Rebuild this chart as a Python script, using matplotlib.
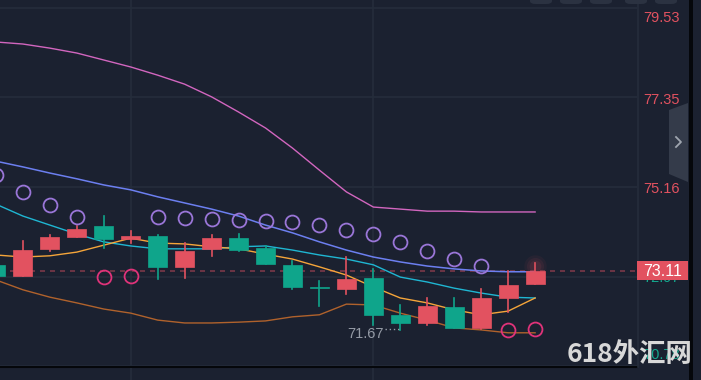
import matplotlib
matplotlib.use("Agg")
import matplotlib.pyplot as plt
from matplotlib.patches import Rectangle, Polygon, FancyBboxPatch
from matplotlib.transforms import blended_transform_factory

# candle data (red = up, green = down)
opens = [73.26, 72.99, 73.65, 73.94, 74.21, 73.89, 73.96, 73.21, 73.65, 73.92, 73.67,
         73.26, 72.70, 72.67, 72.94, 72.04, 71.84, 72.23, 71.72, 72.45, 72.79]
highs = [73.33, 73.84, 73.99, 74.21, 74.45, 74.09, 73.99, 73.79, 73.99, 74.01, 73.72,
         73.35, 72.87, 73.45, 73.16, 72.28, 72.45, 72.45, 72.67, 73.11, 73.30]
lows = [72.91, 72.99, 73.60, 73.94, 73.67, 73.79, 72.91, 72.94, 73.48, 73.60, 73.28,
        72.67, 72.26, 72.55, 71.79, 71.67, 71.79, 71.72, 71.70, 72.11, 72.79]
closes = [72.99, 73.62, 73.94, 74.13, 73.89, 73.96, 73.21, 73.60, 73.92, 73.62, 73.28,
          72.72, 72.69, 72.91, 72.04, 71.84, 72.26, 71.72, 72.45, 72.77, 73.11]

# indicator lines
upper_band = [78.70, 78.65, 78.55, 78.43, 78.26, 78.09, 77.89, 77.67, 77.36, 76.99, 76.60,
              76.11, 75.57, 75.04, 74.67, 74.62, 74.57, 74.57, 74.55, 74.55, 74.55]
lower_band = [72.89, 72.65, 72.47, 72.33, 72.18, 72.08, 71.91, 71.84, 71.84, 71.86, 71.89,
              71.99, 72.04, 72.30, 72.28, 72.08, 71.91, 71.72, 71.67, 71.60, 71.60]
ma_slow = [75.79, 75.65, 75.50, 75.36, 75.21, 75.09, 74.92, 74.77, 74.62, 74.45, 74.23,
           74.04, 73.82, 73.62, 73.45, 73.33, 73.23, 73.16, 73.11, 73.09, 73.09]
ma_mid = [74.74, 74.45, 74.23, 74.01, 73.82, 73.72, 73.65, 73.65, 73.65, 73.70, 73.72,
          73.62, 73.50, 73.40, 73.26, 72.96, 72.84, 72.69, 72.57, 72.47, 72.45]
ma_fast = [73.50, 73.45, 73.48, 73.57, 73.74, 73.91, 73.79, 73.77, 73.70, 73.65, 73.52,
           73.40, 73.21, 73.01, 72.72, 72.45, 72.33, 72.16, 72.04, 72.13, 72.45]
sar = [75.45, 75.04, 74.72, 74.43, 72.96, 72.99, 74.43, 74.40, 74.38, 74.35, 74.33,
       74.31, 74.23, 74.11, 74.01, 73.82, 73.60, 73.40, 73.23, 71.67, 71.69]

price_ticks = [79.53, 77.35, 75.16, 72.97, 70.78]
tick_label_y = [79.29, 77.29, 75.11, 72.93, 71.05]
last_price = 73.11
low_price = 71.67
low_idx = 15
vgrid_idx = [5, 14]

BG = "#1b2130"
GRID = "#252d3b"
RED = "#e25260"
GREEN = "#0fa58b"

W, H = 701, 380
fig = plt.figure(figsize=(W / 100, H / 100), dpi=100, facecolor=BG)

ax = fig.add_axes([0, 13 / H, 637 / W, 367 / H])
ax.set_facecolor(BG)
ax.set_xlim(0.15, 23.78)
ax.set_ylim(70.765, 79.725)
ax.set_yticks(price_ticks)
ax.set_xticks(vgrid_idx)
ax.grid(True, color=GRID, linewidth=1.2)
ax.tick_params(left=False, bottom=False, labelleft=False, labelbottom=False)
for side in ["top", "left", "right"]:
    ax.spines[side].set_visible(False)
ax.spines["bottom"].set_color("#05070b")
ax.spines["bottom"].set_linewidth(1.5)

idx = list(range(len(opens)))

# lines
ax.plot(idx, upper_band, color="#d266bf", lw=1.0, zorder=2)
ax.plot(idx, lower_band, color="#b0622c", lw=1.0, zorder=2)
ax.plot(idx, ma_slow, color="#6c7ff0", lw=1.1, zorder=2)
ax.plot(idx, ma_mid, color="#1fb6d2", lw=1.0, zorder=2)
ax.plot(idx, ma_fast, color="#f5a53a", lw=1.0, zorder=2)

# candles
for i in idx:
    o, h, l, c = opens[i], highs[i], lows[i], closes[i]
    col = RED if c >= o else GREEN
    ax.plot([i, i], [l, h], color=col, lw=1.2, zorder=3)
    bot, top = min(o, c), max(o, c)
    ax.add_patch(Rectangle((i - 0.35, bot), 0.7, max(top - bot, 0.02),
                           facecolor=col, edgecolor=col, lw=0.5, zorder=4))

# SAR circles
for i in idx:
    col = "#9a76d8" if sar[i] > highs[i] else "#e0337a"
    ax.plot(i, sar[i], "o", ms=10, mfc="none", mec=col, mew=1.3, zorder=5)

# glow on last candle
for s, a in [(260, 0.06), (150, 0.08), (70, 0.1)]:
    ax.scatter(idx[-1], highs[-1] - 0.08, s=s, color=RED, alpha=a, lw=0, zorder=5)

# last price line
ax.axhline(last_price, color="#7a3849", lw=1.2, ls=(0, (3, 3)), zorder=1)

# low marker
ax.text(low_idx - 0.62, low_price - 0.1, "71.67", color="#959ba6", fontsize=10.5,
        family="Liberation Sans", ha="right", va="center", zorder=6)
ax.plot([low_idx - 0.56, low_idx - 0.05], [low_price + 0.02] * 2, color="#959ba6",
        lw=1.0, ls=(0, (1, 2)), zorder=6)

# bottom strip
bx = fig.add_axes([0, 0, 637 / W, 12 / H])
bx.set_facecolor(BG)
bx.set_xlim(ax.get_xlim())
for v in vgrid_idx:
    bx.axvline(v, color=GRID, lw=1.2)
bx.axis("off")

# price scale
fig.add_artist(plt.Line2D([637.5 / W, 637.5 / W], [13 / H, 1], color=GRID, lw=1.2))
fig.add_artist(Rectangle((689 / W, 0), 4 / W, 1, transform=fig.transFigure,
                         facecolor="#05070b", lw=0))
tr = blended_transform_factory(fig.transFigure, ax.transData)
for v, ly in zip(price_ticks, tick_label_y):
    col = RED if v > last_price else "#14a88e"
    ax.text(643 / W, ly, f"{v:.2f}", transform=tr, color=col, fontsize=10.5,
            family="Liberation Sans", va="center", ha="left", zorder=1, clip_on=False)

# last price box
fig.add_artist(Rectangle((637 / W, (H - 280) / H), 51 / W, 19 / H,
                         transform=fig.transFigure, facecolor=RED, lw=0, zorder=10))
fig.text(662.5 / W, (H - 271) / H, f"{last_price:.2f}", color="white", fontsize=11.5,
         family="Liberation Sans", ha="center", va="center", zorder=11)

# side tab with chevron
tab = Polygon([(669 / W, (H - 110) / H), (688 / W, (H - 103) / H),
               (688 / W, (H - 182) / H), (669 / W, (H - 174) / H)],
              closed=True, transform=fig.transFigure, facecolor="#343b4a", lw=0, zorder=10)
fig.add_artist(tab)
fig.add_artist(plt.Line2D([676 / W, 681 / W, 676 / W],
                          [(H - 137) / H, (H - 142) / H, (H - 147) / H],
                          color="#a0a6b0", lw=1.3, zorder=11))

# top buttons
for x0 in [530, 560, 590, 625, 655]:
    fig.add_artist(FancyBboxPatch((x0 / W, (H - 4) / H), 22 / W, 10 / H,
                                  boxstyle="round,pad=0,rounding_size=0.008",
                                  transform=fig.transFigure, facecolor="#2b3241",
                                  lw=0, zorder=10))

# watermark
fig.text(630 / W, (H - 355) / H, "618外汇网", color="#d8d8d8", fontsize=19,
         family=["Noto Sans CJK SC", "DejaVu Sans"], weight="bold",
         ha="center", va="center", zorder=12)

fig.savefig("out.png", dpi=100, facecolor=BG)
